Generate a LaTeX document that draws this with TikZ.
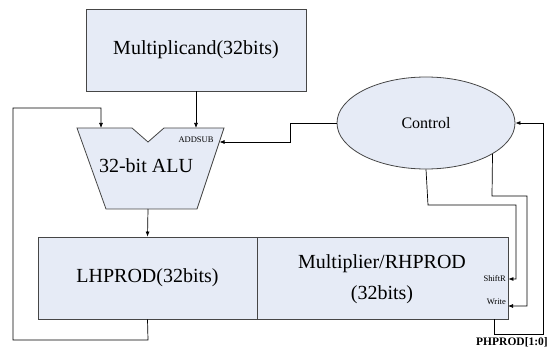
\documentclass[tikz,border=0pt]{standalone}
\usepackage{fontspec}
\setmainfont{Liberation Serif}
\usetikzlibrary{arrows.meta,shapes.geometric}
\definecolor{boxfill}{RGB}{230,235,246}
\definecolor{boxline}{RGB}{70,70,70}
\tikzset{
  blk/.style={draw=boxline, fill=boxfill, line width=0.8pt, inner sep=0pt, align=center},
  wire/.style={draw=black, line width=0.7pt},
  arr/.style={wire, -{Latex[length=5pt,width=4pt]}},
  big/.style={font=\fontsize{20}{31}\selectfont},
  tiny/.style={font=\fontsize{8.5}{10}\selectfont, inner sep=0pt},
}
\begin{document}
\begin{tikzpicture}[x=1pt,y=-1pt]
\useasboundingbox (0,0) rectangle (551,347);
% boxes
\node[blk, big, minimum width=220pt, minimum height=82pt] (mc) at (196,50) {Multiplicand(32bits)};
\node[blk, big, minimum width=219pt, minimum height=82pt] (lh) at (147.5,278) {LHPROD(32bits)};
\node[blk, big, minimum width=251pt, minimum height=82pt] (rh) at (382.5,278) {};
\node[big, align=center, inner sep=0pt] (rhtxt) at (382,279) {Multiplier/RHPROD\\(32bits)};
\node[blk, ellipse, minimum width=178pt, minimum height=92pt, font=\fontsize{16}{19}\selectfont] (ctl) at (426,123) {Control};
% ALU
\draw[blk] (77,128) coordinate (alutl) -- (132,128) -- (148,142) -- (164,128) -- (224,128) coordinate (alutr)
  -- (197,209) coordinate (alubr) -- (106,209) coordinate (alubl) -- cycle;
\node[big, inner sep=0pt] (alutxt) at (146,166) {32-bit ALU};
\node[tiny] (addsub) at (196,140) {ADDSUB};
\coordinate (aluin1) at (101,128);
\coordinate (aluin2) at (196,128);
\coordinate (aluout) at (148,209);
\coordinate (aluctl) at (219.5,142);
% labels
\node[tiny, anchor=east] (shr) at (506,279) {ShiftR};
\node[tiny, anchor=east] (wr) at (506,302) {Write};
\node[inner sep=0pt, anchor=west, font=\fontsize{11.5}{13}\selectfont\bfseries] (ph) at (476,342) {PHPROD[1:0]};
% connectors
\draw[arr] (mc.south) -- (aluin2);
\draw[arr] (aluout) -- (lh.north);
\draw[arr] (lh.south) -- (148,340) -- (13,340) -- (13,108) -- (101,108) -- (aluin1);
\draw[arr] (ctl.west) -- (290,123) -- (290,142) -- (aluctl);
\draw[arr] (ctl.south) -- (428,205) -- (516,205) -- (516,279) -- (rh.east |- shr);
\draw[arr] (ctl.-25) -- (492,196) -- (527,196) -- (527,306) -- (508,306);
\draw[arr] (494,319) -- (494,334) -- (543,334) -- (543,123) -- (ctl.east);
\end{tikzpicture}
\end{document}
